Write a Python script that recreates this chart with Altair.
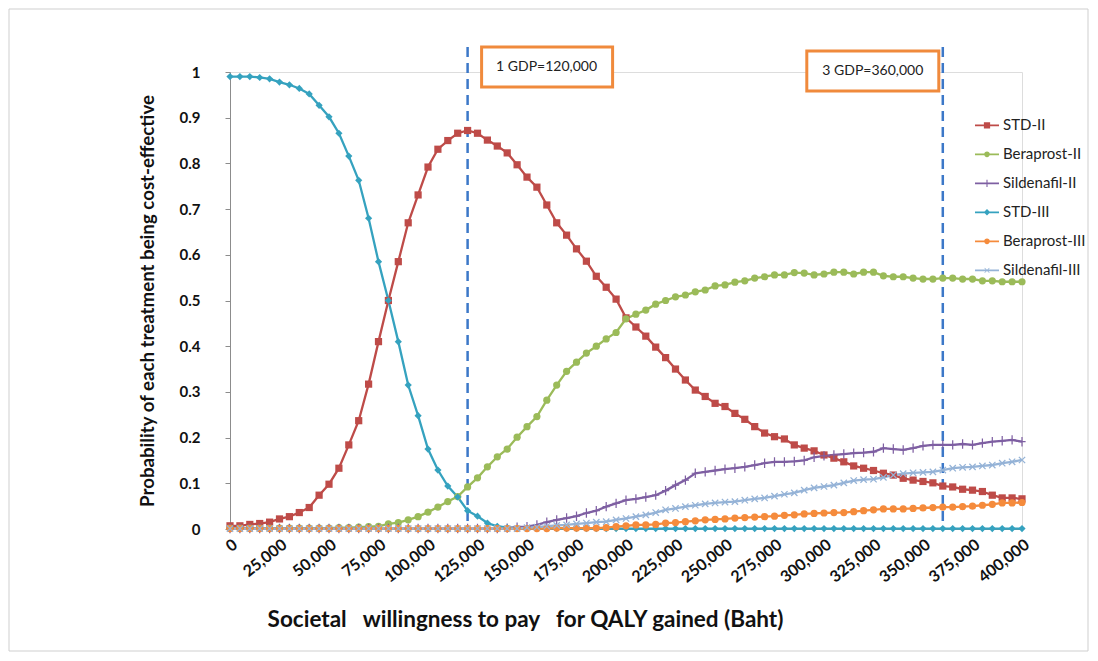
import altair as alt
import pandas as pd

# ---- data ----
wtp = list(range(0, 400001, 5000))  # societal WTP grid (Baht), 81 points

series_names = ["STD-II", "Beraprost-II", "Sildenafil-II", "STD-III", "Beraprost-III", "Sildenafil-III"]
series_colors = ["#BE4B48", "#9BBB59", "#7E5FA2", "#35A2BF", "#F58B3C", "#95B3D7"]

std_ii = [0.007, 0.007, 0.010, 0.012, 0.015, 0.022, 0.027, 0.036, 0.047, 0.074,
          0.098, 0.133, 0.184, 0.237, 0.317, 0.410, 0.500, 0.585, 0.670, 0.731,
          0.792, 0.831, 0.850, 0.866, 0.872, 0.866, 0.851, 0.838, 0.823, 0.797,
          0.770, 0.748, 0.709, 0.670, 0.643, 0.613, 0.586, 0.553, 0.529, 0.503,
          0.462, 0.442, 0.422, 0.398, 0.375, 0.350, 0.326, 0.304, 0.290, 0.275,
          0.268, 0.253, 0.240, 0.224, 0.210, 0.202, 0.197, 0.184, 0.177, 0.171,
          0.162, 0.155, 0.147, 0.138, 0.133, 0.128, 0.122, 0.118, 0.111, 0.107,
          0.104, 0.101, 0.094, 0.092, 0.087, 0.085, 0.082, 0.074, 0.068, 0.068,
          0.066]

beraprost_ii = [0.002, 0.002, 0.002, 0.002, 0.002, 0.002, 0.002, 0.002, 0.002, 0.002,
                0.002, 0.003, 0.003, 0.004, 0.005, 0.006, 0.011, 0.014, 0.020, 0.027,
                0.037, 0.048, 0.060, 0.071, 0.092, 0.112, 0.136, 0.158, 0.175, 0.201,
                0.224, 0.246, 0.282, 0.315, 0.345, 0.365, 0.385, 0.400, 0.416, 0.430,
                0.460, 0.470, 0.479, 0.492, 0.500, 0.508, 0.512, 0.519, 0.523, 0.532,
                0.534, 0.540, 0.543, 0.549, 0.552, 0.556, 0.556, 0.561, 0.560, 0.556,
                0.558, 0.562, 0.562, 0.558, 0.562, 0.562, 0.554, 0.552, 0.552, 0.549,
                0.547, 0.547, 0.549, 0.549, 0.547, 0.547, 0.543, 0.543, 0.541, 0.541,
                0.541]

sildenafil_ii = [0.001, 0.001, 0.001, 0.001, 0.001, 0.001, 0.001, 0.001, 0.001, 0.001,
                 0.001, 0.001, 0.001, 0.001, 0.001, 0.001, 0.001, 0.001, 0.001, 0.001,
                 0.001, 0.001, 0.001, 0.001, 0.001, 0.001, 0.001, 0.001, 0.002, 0.004,
                 0.005, 0.009, 0.015, 0.020, 0.024, 0.028, 0.035, 0.040, 0.049, 0.056,
                 0.063, 0.066, 0.070, 0.074, 0.084, 0.096, 0.107, 0.122, 0.125, 0.128,
                 0.131, 0.133, 0.136, 0.140, 0.144, 0.147, 0.147, 0.148, 0.150, 0.157,
                 0.160, 0.162, 0.164, 0.166, 0.167, 0.169, 0.177, 0.175, 0.173, 0.177,
                 0.182, 0.184, 0.184, 0.184, 0.186, 0.184, 0.188, 0.191, 0.193, 0.195,
                 0.191]

std_iii = [0.990, 0.990, 0.990, 0.988, 0.985, 0.978, 0.972, 0.964, 0.952, 0.927,
           0.902, 0.866, 0.816, 0.763, 0.680, 0.585, 0.500, 0.410, 0.315, 0.248,
           0.175, 0.129, 0.094, 0.070, 0.040, 0.028, 0.013, 0.006, 0.003, 0.002,
           0.001, 0.001, 0.001, 0.001, 0.001, 0.001, 0.001, 0.001, 0.001, 0.001,
           0.001, 0.001, 0.001, 0.001, 0.001, 0.001, 0.001, 0.001, 0.001, 0.001,
           0.001, 0.001, 0.001, 0.001, 0.001, 0.001, 0.001, 0.001, 0.001, 0.001,
           0.001, 0.001, 0.001, 0.001, 0.001, 0.001, 0.001, 0.001, 0.001, 0.001,
           0.001, 0.001, 0.001, 0.001, 0.001, 0.001, 0.001, 0.001, 0.001, 0.001,
           0.001]

beraprost_iii = [0.001, 0.001, 0.001, 0.001, 0.001, 0.001, 0.001, 0.001, 0.001, 0.001,
                 0.001, 0.001, 0.001, 0.001, 0.001, 0.001, 0.001, 0.001, 0.001, 0.001,
                 0.001, 0.001, 0.001, 0.001, 0.001, 0.001, 0.001, 0.001, 0.001, 0.001,
                 0.001, 0.001, 0.001, 0.002, 0.002, 0.002, 0.002, 0.002, 0.003, 0.005,
                 0.007, 0.009, 0.009, 0.010, 0.013, 0.014, 0.016, 0.018, 0.020, 0.021,
                 0.022, 0.024, 0.025, 0.026, 0.027, 0.028, 0.030, 0.031, 0.033, 0.034,
                 0.035, 0.036, 0.036, 0.038, 0.040, 0.042, 0.044, 0.044, 0.044, 0.045,
                 0.046, 0.047, 0.048, 0.048, 0.049, 0.050, 0.052, 0.054, 0.057, 0.057,
                 0.058]

sildenafil_iii = [0.001, 0.001, 0.001, 0.001, 0.001, 0.001, 0.001, 0.001, 0.001, 0.001,
                  0.001, 0.001, 0.001, 0.001, 0.001, 0.001, 0.001, 0.001, 0.001, 0.001,
                  0.001, 0.001, 0.001, 0.001, 0.001, 0.001, 0.001, 0.001, 0.001, 0.001,
                  0.003, 0.004, 0.006, 0.008, 0.009, 0.011, 0.013, 0.015, 0.016, 0.020,
                  0.023, 0.027, 0.031, 0.036, 0.042, 0.045, 0.049, 0.052, 0.055, 0.057,
                  0.059, 0.060, 0.063, 0.066, 0.068, 0.072, 0.076, 0.079, 0.085, 0.090,
                  0.093, 0.096, 0.101, 0.106, 0.108, 0.109, 0.113, 0.118, 0.121, 0.123,
                  0.124, 0.125, 0.129, 0.133, 0.135, 0.136, 0.138, 0.140, 0.144, 0.147,
                  0.151]

x_ticks = list(range(0, 400001, 25000))
y_ticks = [0, 0.1, 0.2, 0.3, 0.4, 0.5, 0.6, 0.7, 0.8, 0.9, 1.0]

gdp_thresholds = [120000, 360000]
gdp_labels = ["1 GDP=120,000", "3 GDP=360,000"]

# ---- long table ----
all_values = [std_ii, beraprost_ii, sildenafil_ii, std_iii, beraprost_iii, sildenafil_iii]
rows = []
for name, vals in zip(series_names, all_values):
    for xv, yv in zip(wtp, vals):
        rows.append({"wtp": xv, "prob": yv, "series": name})
df = pd.DataFrame(rows)

gdp_df = pd.DataFrame({"gdp": gdp_thresholds, "label": gdp_labels})
gdp1 = gdp_df.iloc[[0]]
gdp2 = gdp_df.iloc[[1]]

# ---- marker shapes (plot) ----
plus_path = "M-1,-0.17H1V0.17H-1Z M-0.17,-1.3H0.17V1.3H-0.17Z"
x_path = "M-1,-0.75L-0.75,-1L1,0.75L0.75,1Z M0.75,-1L1,-0.75L-0.75,1L-1,0.75Z"
marker_shapes = ["square", "circle", plus_path, "diamond", "circle", x_path]

# ---- legend symbols: line with marker ----
seg = "M-1,-0.075H1V0.075H-1Z "
legend_paths = [
    seg + "M-0.26,-0.26H0.26V0.26H-0.26Z",
    seg + "M-0.24,0A0.24,0.24 0 1,1 0.24,0A0.24,0.24 0 1,1 -0.24,0Z",
    seg + "M-0.045,-0.3H0.045V0.3H-0.045Z",
    seg + "M0,-0.27L0.27,0L0,0.27L-0.27,0Z",
    seg + "M-0.24,0A0.24,0.24 0 1,1 0.24,0A0.24,0.24 0 1,1 -0.24,0Z",
    seg + "M-0.22,-0.18L-0.18,-0.22L0.22,0.18L0.18,0.22Z M0.18,-0.22L0.22,-0.18L-0.18,0.22L-0.22,0.18Z",
]
names_js = "[" + ",".join("'" + n + "'" for n in series_names) + "]"
paths_js = "[" + ",".join("'" + p + "'" for p in legend_paths) + "]"
legend_shape_expr = paths_js + "[indexof(" + names_js + ", datum.value)]"

FONT = "Lato"

x_enc = alt.X(
    "wtp:Q",
    scale=alt.Scale(domain=[0, 400000], nice=False, zero=False),
    axis=alt.Axis(
        values=x_ticks, format=",d", labelAngle=-38, labelFontWeight="bold",
        labelFontSize=16, labelColor="#111", labelFont=FONT, ticks=False,
        labelPadding=7, grid=False, domainColor="#8c8c8c",
        title="Societal\u00a0\u00a0 willingness to pay\u00a0\u00a0 for QALY gained (Baht)",
        titleFont=FONT, titleFontSize=22.5, titleFontWeight="bold", titleColor="#111",
        titleX=295, titleY=79, titleAlign="center", titleBaseline="top",
        labelOverlap=False, labelFlush=False,
    ),
)
y_enc = alt.Y(
    "prob:Q",
    scale=alt.Scale(domain=[0, 1], nice=False),
    axis=alt.Axis(
        values=y_ticks, format=".1~f", labelFontWeight="bold", labelFontSize=15,
        labelColor="#111", labelFont=FONT, tickSize=5, tickColor="#8c8c8c",
        labelPadding=25, grid=False, domainColor="#8c8c8c",
        title="Probability of each treatment being cost-effective",
        titleFont=FONT, titleFontSize=18.7, titleFontWeight="bold", titleColor="#111",
        titlePadding=22,
    ),
)

legend = alt.Legend(
    title=None, orient="none", legendX=745, legendY=39,
    symbolSize=576, symbolStrokeWidth=0, symbolOpacity=1,
    labelFont=FONT, labelFontSize=15,
    labelColor="#222", labelOffset=4, padding=0, rowPadding=0, clipHeight=28.6,
    symbolType={"expr": legend_shape_expr},
)
color_scale = alt.Scale(domain=series_names, range=series_colors)

frame = alt.Chart(pd.DataFrame({"f": [0]})).mark_rect(
    filled=False, stroke="#cfcfcf", strokeWidth=1
).encode(x=alt.value(-221), x2=alt.value(858), y=alt.value(-63), y2=alt.value(579))

line_layers = []
point_layers = []
for i, (name, col, shp) in enumerate(zip(series_names, series_colors, marker_shapes)):
    enc = {"x": x_enc, "y": y_enc} if i == 0 else {"x": "wtp:Q", "y": "prob:Q"}
    line_layers.append(
        alt.Chart(df).transform_filter(alt.datum.series == name)
        .mark_line(strokeWidth=2.3, color=col).encode(**enc)
    )
    point_layers.append(
        alt.Chart(df).transform_filter(alt.datum.series == name)
        .mark_point(filled=True, size=52, opacity=1, strokeWidth=0, shape=shp)
        .encode(x="wtp:Q", y="prob:Q",
                color=alt.Color("series:N", scale=color_scale, legend=legend))
    )

rules = alt.Chart(gdp_df).mark_rule(strokeDash=[10, 6], strokeWidth=2.5, color="#3C78C8").encode(
    x="gdp:Q", y=alt.value(-25), y2=alt.value(457)
)

box1 = alt.Chart(gdp1).mark_rect(
    fill="white", stroke="#F08A3C", strokeWidth=3, xOffset=14, x2Offset=145
).encode(x="gdp:Q", x2="gdp:Q", y=alt.value(-25), y2=alt.value(15))
text1 = alt.Chart(gdp1).mark_text(
    dx=79, font=FONT, fontSize=14, color="#222", baseline="middle"
).encode(x="gdp:Q", y=alt.value(-5), text="label:N")

box2 = alt.Chart(gdp2).mark_rect(
    fill="white", stroke="#F08A3C", strokeWidth=3, xOffset=-136, x2Offset=-4
).encode(x="gdp:Q", x2="gdp:Q", y=alt.value(-21), y2=alt.value(19))
text2 = alt.Chart(gdp2).mark_text(
    dx=-70, font=FONT, fontSize=14, color="#222", baseline="middle"
).encode(x="gdp:Q", y=alt.value(-1), text="label:N")

chart = alt.layer(frame, rules, *line_layers, *point_layers, box1, text1, box2, text2).properties(
    width=792, height=457,
    autosize=alt.AutoSizeParams(type="none"),
    padding={"left": 222, "top": 64, "right": 68, "bottom": 124},
).configure_view(stroke=None).configure(background="white")

chart.save("out.html", embed_options={"renderer": "svg", "actions": False})
